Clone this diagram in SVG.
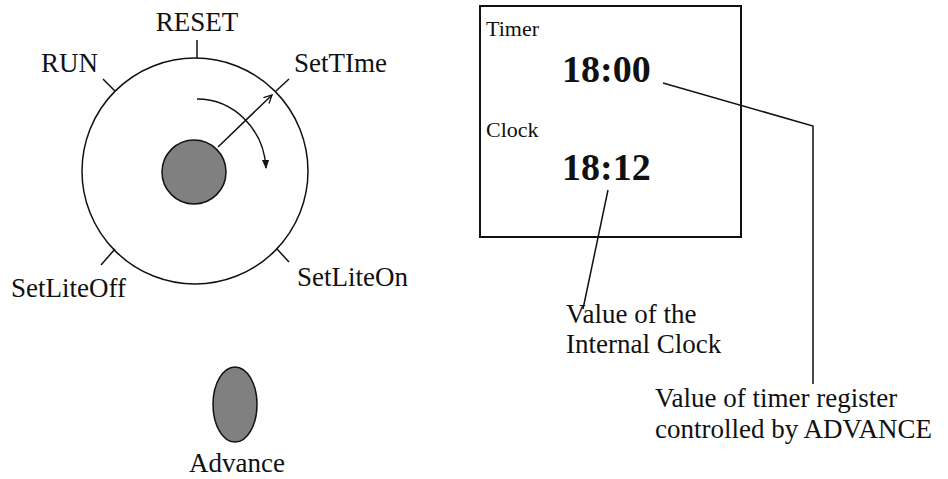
<svg xmlns="http://www.w3.org/2000/svg" width="948" height="479" viewBox="0 0 948 479">
<style>
.t{font-family:"Liberation Serif","Times New Roman",serif;font-size:27px;fill:#111}
.s{font-family:"Liberation Serif","Times New Roman",serif;font-size:22px;fill:#111}
.b{font-family:"Liberation Serif","Times New Roman",serif;font-size:38px;font-weight:bold;fill:#111}
.ln{stroke:#111;stroke-width:1.5;fill:none}
.knob{fill:#808080;stroke:#111;stroke-width:1.5}
</style>
<defs>
<marker id="open" viewBox="0 0 10 10" refX="9" refY="5" markerWidth="10" markerHeight="10" markerUnits="userSpaceOnUse" orient="auto">
<path d="M1,1 L9,5 L1,9" fill="none" stroke="#111" stroke-width="1.3"/>
</marker>
<marker id="solid" viewBox="0 0 10 10" refX="9" refY="5" markerWidth="9" markerHeight="9" markerUnits="userSpaceOnUse" orient="auto">
<path d="M0,1 L10,5 L0,9 Z" fill="#111"/>
</marker>
</defs>
<rect width="948" height="479" fill="#fff"/>
<g id="dial">
<circle class="ln" cx="195" cy="171" r="113"/>
<line class="ln" x1="197" y1="40" x2="197" y2="58"/>
<line class="ln" x1="103" y1="79" x2="115" y2="91"/>
<line class="ln" x1="276" y1="91" x2="289" y2="79"/>
<line class="ln" x1="101" y1="265" x2="115" y2="249"/>
<line class="ln" x1="277" y1="249" x2="289" y2="262"/>
<text class="t" x="197" y="31" text-anchor="middle">RESET</text>
<text class="t" x="41" y="72">RUN</text>
<text class="t" x="294" y="72">SetTIme</text>
<text class="t" x="11" y="297">SetLiteOff</text>
<text class="t" x="297" y="286">SetLiteOn</text>
</g>
<g id="knob">
<circle class="knob" cx="194" cy="172" r="32"/>
<line class="ln" x1="218" y1="147" x2="272" y2="95" marker-end="url(#open)"/>
<path class="ln" d="M197,99 A69,73 0 0 1 266,168" marker-end="url(#solid)"/>
</g>
<g id="advance">
<ellipse class="knob" cx="235" cy="404.5" rx="22" ry="37.5"/>
<text class="t" x="237" y="472" text-anchor="middle">Advance</text>
</g>
<g id="display">
<rect x="480" y="6" width="261" height="231" fill="none" stroke="#111" stroke-width="2"/>
<text class="s" x="486" y="36">Timer</text>
<text class="b" x="562" y="82">18:00</text>
<text class="s" x="486" y="137">Clock</text>
<text class="b" x="562" y="180">18:12</text>
</g>
<g id="clock-label">
<text class="t" x="566" y="323">Value of the</text>
<text class="t" x="566" y="353">Internal Clock</text>
</g>
<g id="timer-label">
<text class="t" x="655" y="407">Value of timer register</text>
<text class="t" x="655" y="438">controlled by ADVANCE</text>
</g>
<g id="connectors">
<polyline class="ln" points="663,83 813,126 813,384"/>
<line class="ln" x1="608" y1="190" x2="583" y2="309"/>
</g>
</svg>
